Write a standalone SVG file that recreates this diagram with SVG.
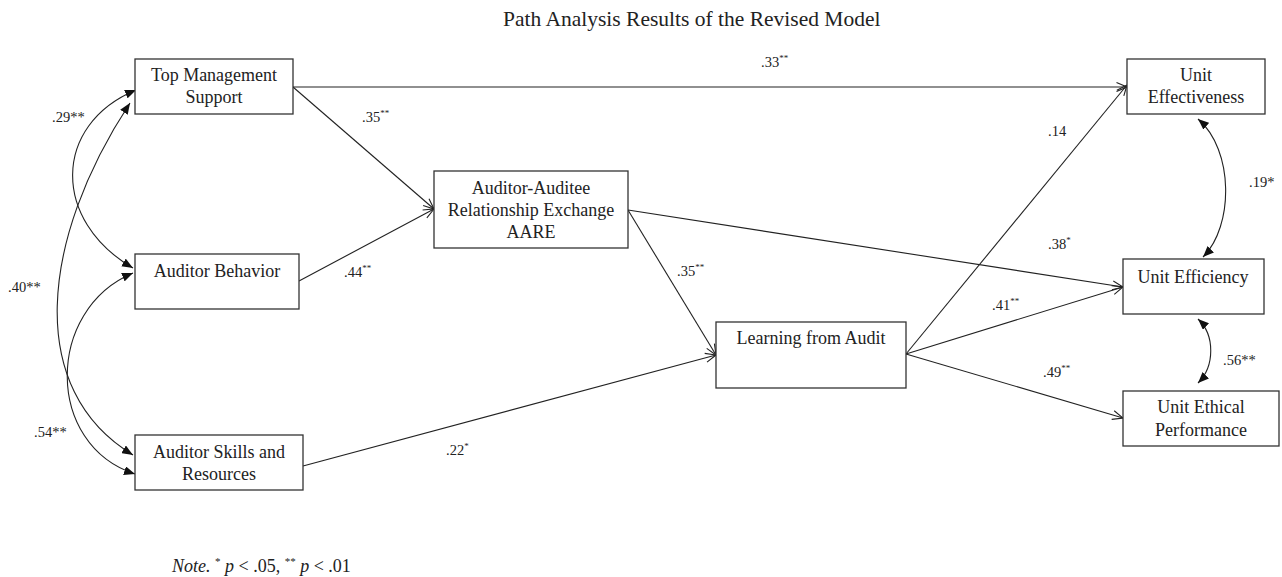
<svg xmlns="http://www.w3.org/2000/svg" width="1282" height="577" viewBox="0 0 1282 577">
<style>
  text { font-family: "Liberation Serif", "Times New Roman", serif; fill: #222; }
  .node rect { fill: #fff; stroke: #333; stroke-width: 1.3; }
  .node text { font-size: 18px; text-anchor: middle; }
  .title { font-size: 21.5px; }
  .lbl { font-size: 14.5px; }
  .sup { font-size: 9px; }
  .note { font-size: 18px; }
  .nsup { font-size: 11px; }
  .edge { fill: none; stroke: #222; stroke-width: 1.1; }
  .path { marker-end: url(#open); }
  .cov { marker-start: url(#solid); marker-end: url(#solid); }
</style>
<defs>
  <marker id="open" viewBox="0 0 12 12" refX="11.5" refY="6" markerWidth="12" markerHeight="12" orient="auto" markerUnits="userSpaceOnUse">
    <path d="M1,1.5 L11.5,6 L1,10.5" fill="none" stroke="#222" stroke-width="1.1"/>
  </marker>
  <marker id="solid" viewBox="0 0 11 9" refX="11" refY="4.5" markerWidth="11" markerHeight="9" orient="auto-start-reverse" markerUnits="userSpaceOnUse">
    <path d="M0,0 L11,4.5 L0,9 Z" fill="#111"/>
  </marker>
</defs>

<text class="title" x="503" y="26">Path Analysis Results of the Revised Model</text>

<g id="connectors">
  <path class="edge path" d="M293,87 L1127,87"/>
  <path class="edge path" d="M293,87 L434,209"/>
  <path class="edge path" d="M299,281 L434,209"/>
  <path class="edge path" d="M303,466 L716,355"/>
  <path class="edge path" d="M628,210 L716,355"/>
  <path class="edge path" d="M628,210 L1123,287"/>
  <path class="edge path" d="M906,354 L1127,85"/>
  <path class="edge path" d="M906,354 L1123,287"/>
  <path class="edge path" d="M906,354 L1123,418"/>
  <path class="edge cov" d="M136,90 C52,125 52,221 133,268"/>
  <path class="edge cov" d="M130,103 C40,240 25,390 133,455"/>
  <path class="edge cov" d="M133,273 C45,310 45,445 135,474"/>
  <path class="edge cov" d="M1198,119 C1234,150 1234,226 1203,257"/>
  <path class="edge cov" d="M1198,319 C1215,335 1215,366 1198,383"/>
</g>

<g id="labels">
  <text class="lbl" x="761" y="67">.33<tspan class="sup" dy="-6">**</tspan></text>
  <text class="lbl" x="362" y="122">.35<tspan class="sup" dy="-6">**</tspan></text>
  <text class="lbl" x="344" y="277">.44<tspan class="sup" dy="-6">**</tspan></text>
  <text class="lbl" x="677" y="276">.35<tspan class="sup" dy="-6">**</tspan></text>
  <text class="lbl" x="446" y="455">.22<tspan class="sup" dy="-6">*</tspan></text>
  <text class="lbl" x="1048" y="136">.14</text>
  <text class="lbl" x="1048" y="249">.38<tspan class="sup" dy="-6">*</tspan></text>
  <text class="lbl" x="992" y="310">.41<tspan class="sup" dy="-6">**</tspan></text>
  <text class="lbl" x="1043" y="377">.49<tspan class="sup" dy="-6">**</tspan></text>
  <text class="lbl" x="1249" y="187">.19*</text>
  <text class="lbl" x="1223" y="365">.56**</text>
  <text class="lbl" x="52" y="122">.29**</text>
  <text class="lbl" x="8" y="292">.40**</text>
  <text class="lbl" x="34" y="437">.54**</text>
</g>

<g id="tms" class="node">
  <rect x="135" y="59" width="158" height="55"/>
  <text x="214" y="81">Top Management</text>
  <text x="214" y="103">Support</text>
</g>
<g id="ab" class="node">
  <rect x="135" y="254" width="164" height="55"/>
  <text x="217" y="277">Auditor Behavior</text>
</g>
<g id="asr" class="node">
  <rect x="135" y="435" width="168" height="55"/>
  <text x="219" y="458">Auditor Skills and</text>
  <text x="219" y="480">Resources</text>
</g>
<g id="aare" class="node">
  <rect x="434" y="171" width="194" height="77"/>
  <text x="531" y="194">Auditor-Auditee</text>
  <text x="531" y="216">Relationship Exchange</text>
  <text x="531" y="238">AARE</text>
</g>
<g id="lfa" class="node">
  <rect x="716" y="322" width="190" height="66"/>
  <text x="811" y="344">Learning from Audit</text>
</g>
<g id="ue" class="node">
  <rect x="1127" y="59" width="138" height="55"/>
  <text x="1196" y="81">Unit</text>
  <text x="1196" y="103">Effectiveness</text>
</g>
<g id="ueff" class="node">
  <rect x="1123" y="259" width="141" height="55"/>
  <text x="1193" y="283">Unit Efficiency</text>
</g>
<g id="ueth" class="node">
  <rect x="1123" y="391" width="156" height="55"/>
  <text x="1201" y="413">Unit Ethical</text>
  <text x="1201" y="436">Performance</text>
</g>

<text class="note" x="172" y="572"><tspan font-style="italic">Note.</tspan> <tspan class="nsup" dy="-7">*</tspan><tspan dy="7" font-style="italic"> p</tspan> &lt; .05, <tspan class="nsup" dy="-7">**</tspan><tspan dy="7" font-style="italic"> p</tspan> &lt; .01</text>
</svg>
